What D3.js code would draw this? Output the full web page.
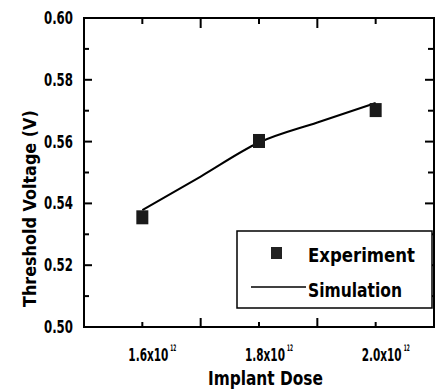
<!DOCTYPE html>
<html><head><meta charset="utf-8">
<script src="https://cdn.jsdelivr.net/npm/d3@7"></script>
<style>
body{margin:0;background:#fff;}
text{font-family:"DejaVu Sans","Liberation Sans",sans-serif;font-stretch:condensed;fill:#000;}
</style></head><body>
<svg id="c" width="437" height="389"></svg>
<script>
const doses = [1.6, 1.8, 2.0];
const experiment = [0.5355, 0.5602, 0.5702];
const simDoses = [1.6, 1.7, 1.8, 1.9, 2.0];
const simulation = [0.5378, 0.5487, 0.5597, 0.5662, 0.5725];
const yTicks = [0.50, 0.52, 0.54, 0.56, 0.58, 0.60];
const xLabels = ["1.6x10", "1.8x10", "2.0x10"];
const xExp = "12";

const svg = d3.select("#c");
const L = 84, R = 434, T = 18, B = 327;
const x = d3.scaleLinear().domain([1.5, 2.1]).range([L, R]);
const y = d3.scaleLinear().domain([0.50, 0.60]).range([B, T]);

const g = svg.append("g");
g.append("rect").attr("x", L).attr("y", T).attr("width", R - L).attr("height", B - T)
  .attr("fill", "none").attr("stroke", "#000").attr("stroke-width", 2);

const xMinor = [1.6, 1.8, 2.0], xMajor = [1.7, 1.9];
const yMajor = yTicks, yMinor = [0.51, 0.53, 0.55, 0.57, 0.59];
function tick(x1, y1, x2, y2) {
  g.append("line").attr("x1", x1).attr("y1", y1).attr("x2", x2).attr("y2", y2)
    .attr("stroke", "#000").attr("stroke-width", 2);
}
xMajor.forEach(v => { tick(x(v), B, x(v), B - 9); tick(x(v), T, x(v), T + 10); });
xMinor.forEach(v => { tick(x(v), B, x(v), B - 5); tick(x(v), T, x(v), T + 6); });
yMajor.slice(1, -1).forEach(v => { tick(L, y(v), L + 8, y(v)); tick(R, y(v), R - 9, y(v)); });
yMinor.forEach(v => { tick(L, y(v), L + 5, y(v)); tick(R, y(v), R - 6, y(v)); });

// place text starting at (px,py) [left edge, baseline], squeezed to width w
function place(str, px, py, w, size, rot) {
  const t = g.append("text").attr("font-size", size).attr("font-weight", "bold").text(str);
  const len = t.node().getComputedTextLength();
  const s = w / len;
  t.attr("transform", `translate(${px},${py})` + (rot ? ` rotate(${rot})` : "") + ` scale(${s},1)`);
  return t;
}

yTicks.forEach(v => place(d3.format(".2f")(v), 44, y(v) + 6, 29, 17));
xMinor.forEach((v, i) => {
  place(xLabels[i], x(v) - 14, 361, 40, 17);
  place(xExp, x(v) + 28, 351, 6, 9);
});
place("Implant Dose", 208, 385, 115, 19);
place("Threshold Voltage (V)", 36, 307, 197, 18, -90);

const line = d3.line().x(d => x(d[0])).y(d => y(d[1])).curve(d3.curveMonotoneX);
g.append("path").datum(simDoses.map((d, i) => [d, simulation[i]]))
  .attr("d", line).attr("fill", "none").attr("stroke", "#000").attr("stroke-width", 2);

g.selectAll(".m").data(doses).enter().append("rect")
  .attr("x", (d) => x(d) - 6).attr("y", (d, i) => y(experiment[i]) - 7)
  .attr("width", 12).attr("height", 14).attr("fill", "#1a1a1a");

g.append("rect").attr("x", 237).attr("y", 231).attr("width", 195).attr("height", 77)
  .attr("fill", "#fff").attr("stroke", "#000").attr("stroke-width", 1.5);
g.append("rect").attr("x", 271).attr("y", 247).attr("width", 11).attr("height", 12).attr("fill", "#222");
place("Experiment", 308, 262, 107, 19);
g.append("line").attr("x1", 251).attr("x2", 306).attr("y1", 287).attr("y2", 287)
  .attr("stroke", "#000").attr("stroke-width", 1.5);
place("Simulation", 308, 297, 94, 19);
</script></body></html>
